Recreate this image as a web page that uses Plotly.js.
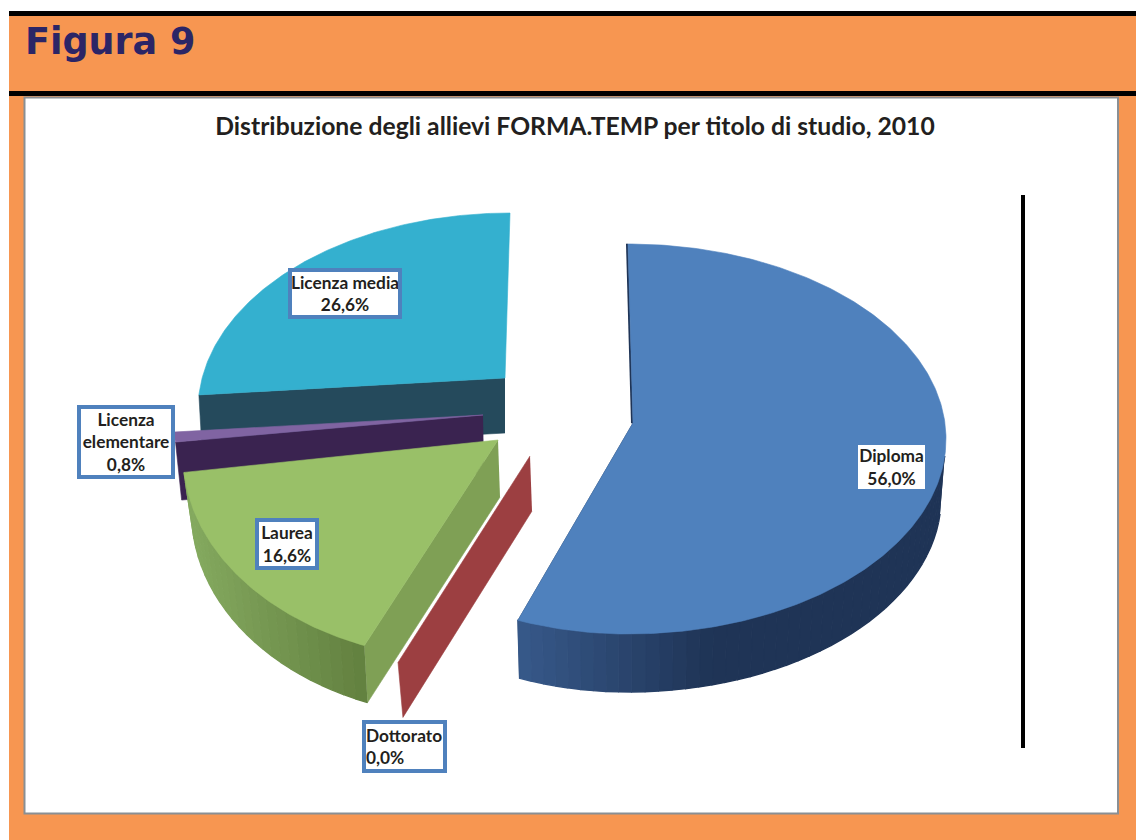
<!DOCTYPE html>
<html><head><meta charset="utf-8">
<script src="https://cdn.plot.ly/plotly-3.0.1.min.js"></script>
<style>html,body{margin:0;padding:0;background:#fff}</style></head>
<body><div id="chart" style="width:1136px;height:840px"></div>
<script>
// ---- data ----
const categories = ["Diploma","Dottorato","Laurea","Licenza elementare","Licenza media"];
const labelNames = ["Diploma","Dottorato","Laurea","Licenza<br>elementare","Licenza media"];
const values = [56.0, 0.0, 16.6, 0.8, 26.6];
const figureTitle = "Figura 9";
const chartTitle = "Distribuzione degli allievi FORMA.TEMP per titolo di studio, 2010";

// ---- styles ----
const topColors  = ["#4f81bd","#9c3f41","#99c068","#8064a2","#34b0cf"];
const cutColors  = ["#1f3456","#9c3f41","#7fa055","#3a2350","#254a5c"];
const wallLeft   = ["#37598a",null,"#84a95f",null,null];
const wallRight  = ["#1f3456",null,"#62803f",null,null];
const orange = "#f79651", navy = "#2b2566", boxBlue = "#4f81bd", ink = "#231f20";

// ---- projected geometry of each exploded slice (pixels on the axes) ----
const geometry = [
 {ax:633,ay:423,cx:628,cy:439,rxR:318,rxL:299,ry:195,depth:58,shrink:0.015,apexDx:0,cutEnd:true,sliver:2,
  wallFromDeg:95,shadeX:[518,710]},
 {ax:530,ay:456,cx:500,cy:456,rxR:277,rxL:277,ry:222,depth:55,shrink:0.048,apexDx:2},
 {ax:498,ay:440,cx:470,cy:455,rxR:287,rxL:287,ry:205,depth:57,shrink:0.03,apexDx:2,pivot:201.6,k:1.063,
  wallFromDeg:201.6,shadeX:[190,365]},
 {ax:483,ay:415,cx:482,cy:412,rxR:310,rxL:310,ry:200,depth:58,shrink:0.02,apexDx:1},
 {ax:505,ay:378,cx:510,cy:410,rxR:312,rxL:312,ry:197,depth:55,shrink:0.01,apexDx:0,pivot:360,k:0.894}
];
const labelBoxes = [
 {x0:858,x1:925,y0:445,y1:489,bw:0,align:"center"},
 {x0:362,x1:447,y0:720,y1:773,bw:4,align:"left"},
 {x0:255,x1:319,y0:518,y1:570,bw:4,align:"center"},
 {x0:77,x1:175,y0:405,y1:479,bw:4,align:"center"},
 {x0:288,x1:402,y0:268,y1:319,bw:4,align:"center"}
];
const drawOrder = [4,3,2,1,0];

// ---- slice angles from the values ----
const total = values.reduce((a,b)=>a+b,0);
const starts = [], ends = [];
values.reduce((acc,v,i)=>{starts[i]=acc; ends[i]=acc+v/total*360; return ends[i];},0);

function pt(g,deg,z){
  const d=g.k?g.pivot+(deg-g.pivot)*g.k:deg;
  const t=d*Math.PI/180,u=Math.sin(t),v=Math.cos(t);
  const rx=(u<0?g.rxL:g.rxR)*(1-z*g.shrink);
  return [g.cx+u*rx, g.cy-v*g.ry+z*g.depth];
}
function mix(a,b,f){
  const p=c=>[1,3,5].map(i=>parseInt(c.substr(i,2),16));
  const A=p(a),B=p(b);
  return "rgb("+A.map((x,i)=>Math.round(x+(B[i]-x)*f)).join(",")+")";
}
const traces=[];
function poly(pts,color,name,lw){
  traces.push({type:"scatter",mode:"lines",x:pts.map(p=>p[0]),y:pts.map(p=>p[1]),
    fill:"toself",fillcolor:color,line:{color:color,width:lw===undefined?0.6:lw},hoverinfo:"skip",showlegend:false,name:name});
}
drawOrder.forEach(i=>{
  const g=geometry[i],a=starts[i],b=ends[i],name=categories[i];
  // cut face
  const cutDeg=g.cutEnd?b:a;
  const e0=pt(g,cutDeg,0),e1=pt(g,cutDeg,1);
  poly([[g.ax,g.ay],e0,e1,[g.ax+g.apexDx,g.ay+g.depth]],cutColors[i],name);
  // thin dark edge along the far cut of the big slice
  if(g.sliver){
    const t=pt(g,a,0);
    poly([[t[0]-g.sliver,t[1]],t,[g.ax,g.ay],[g.ax-g.sliver,g.ay]],cutColors[i],name);
  }
  // outer wall, shaded in strips by screen position
  if(wallLeft[i]){
    const from=Math.max(a,g.wallFromDeg),to=b,n=Math.round((to-from)/2.5);
    for(let k=0;k<n;k++){
      const d0=from+(to-from)*k/n,d1=from+(to-from)*(k+1)/n,q=[];
      for(let j=0;j<=4;j++) q.push(pt(g,d0+(d1-d0)*j/4,0));
      for(let j=4;j>=0;j--) q.push(pt(g,d0+(d1-d0)*j/4,1));
      const xm=pt(g,(d0+d1)/2,0)[0];
      const f=Math.max(0,Math.min(1,(xm-g.shadeX[0])/(g.shadeX[1]-g.shadeX[0])));
      poly(q,mix(wallLeft[i],wallRight[i],f),name,1.4);
    }
  }
  // top face
  if(b>a){
    const q=[[g.ax,g.ay]],n=Math.max(6,Math.round((b-a)*1.5));
    for(let k=0;k<=n;k++) q.push(pt(g,a+(b-a)*k/n,0));
    q.push([g.ax,g.ay]);
    poly(q,topColors[i],name);
  }
});

// ---- frame ----
const rect=(x0,y0,x1,y1,fill,line,lw)=>({type:"rect",xref:"x",yref:"y",layer:"below",x0,y0,x1,y1,
  fillcolor:fill,line:line?{color:line,width:lw}:{width:0}});
const shapes=[
  rect(9,11,1136,840,orange),
  rect(9,11,1136,16,"#000"),
  rect(9,91,1136,96,"#000"),
  rect(24.5,97.5,1118,813.5,"#ffffff","#8a8f94",2),
  rect(1021,195,1025,748,"#000")
];

// ---- labels ----
const fmt=v=>v.toFixed(1).replace(".",",")+"%";
const annotations=values.map((v,i)=>{
  const b=labelBoxes[i];
  return {xref:"x",yref:"y",x:(b.x0+b.x1)/2,y:(b.y0+b.y1)/2,xanchor:"center",yanchor:"middle",
    text:"<b>"+labelNames[i]+"<br>"+fmt(v)+"</b>",showarrow:false,align:b.align,valign:"middle",
    width:b.x1-b.x0-2*b.bw,height:b.y1-b.y0-2*b.bw,bgcolor:"#ffffff",
    bordercolor:b.bw?boxBlue:"rgba(0,0,0,0)",borderwidth:b.bw,borderpad:0,
    font:{family:"Lato",size:17.3,color:ink}};
});
annotations.push({xref:"x",yref:"y",x:23,y:41,xanchor:"left",yanchor:"middle",showarrow:false,
  text:"<b>"+figureTitle+"</b>",font:{family:"DejaVu Sans",size:36.5,color:navy}});

Plotly.newPlot("chart",traces,{
  width:1136,height:840,margin:{l:0,r:0,t:0,b:0},paper_bgcolor:"#ffffff",plot_bgcolor:"rgba(0,0,0,0)",
  title:{text:"<b>"+chartTitle+"</b>",x:575/1136,xanchor:"center",y:1-126/840,yanchor:"middle",
    font:{family:"Lato",size:24.7,color:ink}},
  xaxis:{range:[0,1136],visible:false,fixedrange:true},
  yaxis:{range:[840,0],visible:false,fixedrange:true},
  showlegend:false,shapes,annotations
},{displayModeBar:false,staticPlot:true});
</script></body></html>
